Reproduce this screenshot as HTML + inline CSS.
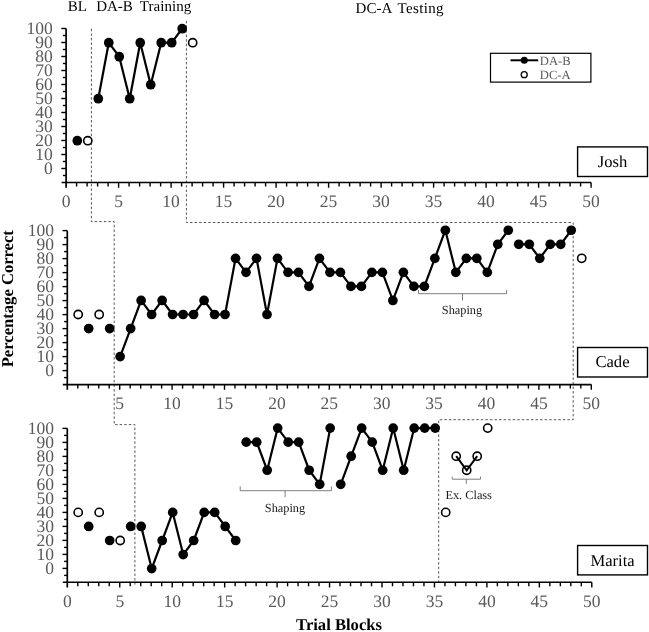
<!DOCTYPE html>
<html><head><meta charset="utf-8"><style>
html,body{margin:0;padding:0;background:#fff;}
body{width:649px;height:632px;overflow:hidden;}
svg{display:block;filter:grayscale(1);}
text{font-family:"Liberation Serif",serif;text-rendering:geometricPrecision;}
.tk{font-size:17.5px;fill:#595959;}
.an{font-size:12.3px;fill:#1a1a1a;}
.lg{font-size:12.6px;fill:#595959;}
.nm{font-size:16.6px;fill:#000;}
.ph{font-size:15px;fill:#000;}
.ax{font-size:16.6px;font-weight:bold;fill:#000;}
</style></head><body>
<svg width="649" height="632" viewBox="0 0 649 632">
<rect width="649" height="632" fill="#fff"/>
<polyline points="91.4,28.8 91.4,221.6 114.2,221.6 114.2,424.6 134.9,424.6 134.9,584.6" fill="none" stroke="#595959" stroke-width="1" stroke-dasharray="2.5 2.06"/>
<polyline points="186.4,20.9 186.4,222.5 573.2,222.5 573.2,419.7 438.7,419.7 438.7,582.2" fill="none" stroke="#595959" stroke-width="1" stroke-dasharray="2.5 2.06"/>
<line x1="66.1" y1="28.5" x2="66.1" y2="187.7" stroke="#000" stroke-width="1.7"/>
<line x1="61.6" y1="182.5" x2="591.1" y2="182.5" stroke="#000" stroke-width="1.6"/>
<line x1="61.3" y1="28.5" x2="66.1" y2="28.5" stroke="#000" stroke-width="1.4"/>
<line x1="62.9" y1="35.5" x2="66.1" y2="35.5" stroke="#000" stroke-width="1.4"/>
<line x1="61.3" y1="42.5" x2="66.1" y2="42.5" stroke="#000" stroke-width="1.4"/>
<line x1="62.9" y1="49.5" x2="66.1" y2="49.5" stroke="#000" stroke-width="1.4"/>
<line x1="61.3" y1="56.5" x2="66.1" y2="56.5" stroke="#000" stroke-width="1.4"/>
<line x1="62.9" y1="63.5" x2="66.1" y2="63.5" stroke="#000" stroke-width="1.4"/>
<line x1="61.3" y1="70.5" x2="66.1" y2="70.5" stroke="#000" stroke-width="1.4"/>
<line x1="62.9" y1="77.5" x2="66.1" y2="77.5" stroke="#000" stroke-width="1.4"/>
<line x1="61.3" y1="84.5" x2="66.1" y2="84.5" stroke="#000" stroke-width="1.4"/>
<line x1="62.9" y1="91.5" x2="66.1" y2="91.5" stroke="#000" stroke-width="1.4"/>
<line x1="61.3" y1="98.5" x2="66.1" y2="98.5" stroke="#000" stroke-width="1.4"/>
<line x1="62.9" y1="105.5" x2="66.1" y2="105.5" stroke="#000" stroke-width="1.4"/>
<line x1="61.3" y1="112.5" x2="66.1" y2="112.5" stroke="#000" stroke-width="1.4"/>
<line x1="62.9" y1="119.5" x2="66.1" y2="119.5" stroke="#000" stroke-width="1.4"/>
<line x1="61.3" y1="126.5" x2="66.1" y2="126.5" stroke="#000" stroke-width="1.4"/>
<line x1="62.9" y1="133.5" x2="66.1" y2="133.5" stroke="#000" stroke-width="1.4"/>
<line x1="61.3" y1="140.5" x2="66.1" y2="140.5" stroke="#000" stroke-width="1.4"/>
<line x1="62.9" y1="147.5" x2="66.1" y2="147.5" stroke="#000" stroke-width="1.4"/>
<line x1="61.3" y1="154.5" x2="66.1" y2="154.5" stroke="#000" stroke-width="1.4"/>
<line x1="62.9" y1="161.5" x2="66.1" y2="161.5" stroke="#000" stroke-width="1.4"/>
<line x1="61.3" y1="168.5" x2="66.1" y2="168.5" stroke="#000" stroke-width="1.4"/>
<line x1="62.9" y1="175.5" x2="66.1" y2="175.5" stroke="#000" stroke-width="1.4"/>
<line x1="76.6" y1="182.5" x2="76.6" y2="186.5" stroke="#000" stroke-width="1.4"/>
<line x1="87.1" y1="182.5" x2="87.1" y2="186.5" stroke="#000" stroke-width="1.4"/>
<line x1="97.6" y1="182.5" x2="97.6" y2="186.5" stroke="#000" stroke-width="1.4"/>
<line x1="108.1" y1="182.5" x2="108.1" y2="186.5" stroke="#000" stroke-width="1.4"/>
<line x1="118.6" y1="182.5" x2="118.6" y2="187.7" stroke="#000" stroke-width="1.4"/>
<line x1="129.1" y1="182.5" x2="129.1" y2="186.5" stroke="#000" stroke-width="1.4"/>
<line x1="139.6" y1="182.5" x2="139.6" y2="186.5" stroke="#000" stroke-width="1.4"/>
<line x1="150.1" y1="182.5" x2="150.1" y2="186.5" stroke="#000" stroke-width="1.4"/>
<line x1="160.6" y1="182.5" x2="160.6" y2="186.5" stroke="#000" stroke-width="1.4"/>
<line x1="171.1" y1="182.5" x2="171.1" y2="187.7" stroke="#000" stroke-width="1.4"/>
<line x1="181.6" y1="182.5" x2="181.6" y2="186.5" stroke="#000" stroke-width="1.4"/>
<line x1="192.1" y1="182.5" x2="192.1" y2="186.5" stroke="#000" stroke-width="1.4"/>
<line x1="202.6" y1="182.5" x2="202.6" y2="186.5" stroke="#000" stroke-width="1.4"/>
<line x1="213.1" y1="182.5" x2="213.1" y2="186.5" stroke="#000" stroke-width="1.4"/>
<line x1="223.6" y1="182.5" x2="223.6" y2="187.7" stroke="#000" stroke-width="1.4"/>
<line x1="234.1" y1="182.5" x2="234.1" y2="186.5" stroke="#000" stroke-width="1.4"/>
<line x1="244.6" y1="182.5" x2="244.6" y2="186.5" stroke="#000" stroke-width="1.4"/>
<line x1="255.1" y1="182.5" x2="255.1" y2="186.5" stroke="#000" stroke-width="1.4"/>
<line x1="265.6" y1="182.5" x2="265.6" y2="186.5" stroke="#000" stroke-width="1.4"/>
<line x1="276.1" y1="182.5" x2="276.1" y2="187.7" stroke="#000" stroke-width="1.4"/>
<line x1="286.6" y1="182.5" x2="286.6" y2="186.5" stroke="#000" stroke-width="1.4"/>
<line x1="297.1" y1="182.5" x2="297.1" y2="186.5" stroke="#000" stroke-width="1.4"/>
<line x1="307.6" y1="182.5" x2="307.6" y2="186.5" stroke="#000" stroke-width="1.4"/>
<line x1="318.1" y1="182.5" x2="318.1" y2="186.5" stroke="#000" stroke-width="1.4"/>
<line x1="328.6" y1="182.5" x2="328.6" y2="187.7" stroke="#000" stroke-width="1.4"/>
<line x1="339.1" y1="182.5" x2="339.1" y2="186.5" stroke="#000" stroke-width="1.4"/>
<line x1="349.6" y1="182.5" x2="349.6" y2="186.5" stroke="#000" stroke-width="1.4"/>
<line x1="360.1" y1="182.5" x2="360.1" y2="186.5" stroke="#000" stroke-width="1.4"/>
<line x1="370.6" y1="182.5" x2="370.6" y2="186.5" stroke="#000" stroke-width="1.4"/>
<line x1="381.1" y1="182.5" x2="381.1" y2="187.7" stroke="#000" stroke-width="1.4"/>
<line x1="391.6" y1="182.5" x2="391.6" y2="186.5" stroke="#000" stroke-width="1.4"/>
<line x1="402.1" y1="182.5" x2="402.1" y2="186.5" stroke="#000" stroke-width="1.4"/>
<line x1="412.6" y1="182.5" x2="412.6" y2="186.5" stroke="#000" stroke-width="1.4"/>
<line x1="423.1" y1="182.5" x2="423.1" y2="186.5" stroke="#000" stroke-width="1.4"/>
<line x1="433.6" y1="182.5" x2="433.6" y2="187.7" stroke="#000" stroke-width="1.4"/>
<line x1="444.1" y1="182.5" x2="444.1" y2="186.5" stroke="#000" stroke-width="1.4"/>
<line x1="454.6" y1="182.5" x2="454.6" y2="186.5" stroke="#000" stroke-width="1.4"/>
<line x1="465.1" y1="182.5" x2="465.1" y2="186.5" stroke="#000" stroke-width="1.4"/>
<line x1="475.6" y1="182.5" x2="475.6" y2="186.5" stroke="#000" stroke-width="1.4"/>
<line x1="486.1" y1="182.5" x2="486.1" y2="187.7" stroke="#000" stroke-width="1.4"/>
<line x1="496.6" y1="182.5" x2="496.6" y2="186.5" stroke="#000" stroke-width="1.4"/>
<line x1="507.1" y1="182.5" x2="507.1" y2="186.5" stroke="#000" stroke-width="1.4"/>
<line x1="517.6" y1="182.5" x2="517.6" y2="186.5" stroke="#000" stroke-width="1.4"/>
<line x1="528.1" y1="182.5" x2="528.1" y2="186.5" stroke="#000" stroke-width="1.4"/>
<line x1="538.6" y1="182.5" x2="538.6" y2="187.7" stroke="#000" stroke-width="1.4"/>
<line x1="549.1" y1="182.5" x2="549.1" y2="186.5" stroke="#000" stroke-width="1.4"/>
<line x1="559.6" y1="182.5" x2="559.6" y2="186.5" stroke="#000" stroke-width="1.4"/>
<line x1="570.1" y1="182.5" x2="570.1" y2="186.5" stroke="#000" stroke-width="1.4"/>
<line x1="580.6" y1="182.5" x2="580.6" y2="186.5" stroke="#000" stroke-width="1.4"/>
<line x1="591.1" y1="182.5" x2="591.1" y2="187.7" stroke="#000" stroke-width="1.4"/>
<text x="52.8" y="34" text-anchor="end" class="tk">100</text>
<text x="52.8" y="48" text-anchor="end" class="tk">90</text>
<text x="52.8" y="62" text-anchor="end" class="tk">80</text>
<text x="52.8" y="76" text-anchor="end" class="tk">70</text>
<text x="52.8" y="90" text-anchor="end" class="tk">60</text>
<text x="52.8" y="104" text-anchor="end" class="tk">50</text>
<text x="52.8" y="118" text-anchor="end" class="tk">40</text>
<text x="52.8" y="132" text-anchor="end" class="tk">30</text>
<text x="52.8" y="146" text-anchor="end" class="tk">20</text>
<text x="52.8" y="160" text-anchor="end" class="tk">10</text>
<text x="52.8" y="174" text-anchor="end" class="tk">0</text>
<text x="66.1" y="207.2" text-anchor="middle" class="tk">0</text>
<text x="118.6" y="207.2" text-anchor="middle" class="tk">5</text>
<text x="171.1" y="207.2" text-anchor="middle" class="tk">10</text>
<text x="223.6" y="207.2" text-anchor="middle" class="tk">15</text>
<text x="276.1" y="207.2" text-anchor="middle" class="tk">20</text>
<text x="328.6" y="207.2" text-anchor="middle" class="tk">25</text>
<text x="381.1" y="207.2" text-anchor="middle" class="tk">30</text>
<text x="433.6" y="207.2" text-anchor="middle" class="tk">35</text>
<text x="486.1" y="207.2" text-anchor="middle" class="tk">40</text>
<text x="538.6" y="207.2" text-anchor="middle" class="tk">45</text>
<text x="591.1" y="207.2" text-anchor="middle" class="tk">50</text>
<line x1="67.3" y1="230.6" x2="67.3" y2="389.8" stroke="#000" stroke-width="1.7"/>
<line x1="62.8" y1="384.6" x2="591.3" y2="384.6" stroke="#000" stroke-width="1.6"/>
<line x1="62.5" y1="230.6" x2="67.3" y2="230.6" stroke="#000" stroke-width="1.4"/>
<line x1="64.1" y1="237.6" x2="67.3" y2="237.6" stroke="#000" stroke-width="1.4"/>
<line x1="62.5" y1="244.6" x2="67.3" y2="244.6" stroke="#000" stroke-width="1.4"/>
<line x1="64.1" y1="251.6" x2="67.3" y2="251.6" stroke="#000" stroke-width="1.4"/>
<line x1="62.5" y1="258.6" x2="67.3" y2="258.6" stroke="#000" stroke-width="1.4"/>
<line x1="64.1" y1="265.6" x2="67.3" y2="265.6" stroke="#000" stroke-width="1.4"/>
<line x1="62.5" y1="272.6" x2="67.3" y2="272.6" stroke="#000" stroke-width="1.4"/>
<line x1="64.1" y1="279.6" x2="67.3" y2="279.6" stroke="#000" stroke-width="1.4"/>
<line x1="62.5" y1="286.6" x2="67.3" y2="286.6" stroke="#000" stroke-width="1.4"/>
<line x1="64.1" y1="293.6" x2="67.3" y2="293.6" stroke="#000" stroke-width="1.4"/>
<line x1="62.5" y1="300.6" x2="67.3" y2="300.6" stroke="#000" stroke-width="1.4"/>
<line x1="64.1" y1="307.6" x2="67.3" y2="307.6" stroke="#000" stroke-width="1.4"/>
<line x1="62.5" y1="314.6" x2="67.3" y2="314.6" stroke="#000" stroke-width="1.4"/>
<line x1="64.1" y1="321.6" x2="67.3" y2="321.6" stroke="#000" stroke-width="1.4"/>
<line x1="62.5" y1="328.6" x2="67.3" y2="328.6" stroke="#000" stroke-width="1.4"/>
<line x1="64.1" y1="335.6" x2="67.3" y2="335.6" stroke="#000" stroke-width="1.4"/>
<line x1="62.5" y1="342.6" x2="67.3" y2="342.6" stroke="#000" stroke-width="1.4"/>
<line x1="64.1" y1="349.6" x2="67.3" y2="349.6" stroke="#000" stroke-width="1.4"/>
<line x1="62.5" y1="356.6" x2="67.3" y2="356.6" stroke="#000" stroke-width="1.4"/>
<line x1="64.1" y1="363.6" x2="67.3" y2="363.6" stroke="#000" stroke-width="1.4"/>
<line x1="62.5" y1="370.6" x2="67.3" y2="370.6" stroke="#000" stroke-width="1.4"/>
<line x1="64.1" y1="377.6" x2="67.3" y2="377.6" stroke="#000" stroke-width="1.4"/>
<line x1="77.78" y1="384.6" x2="77.78" y2="388.6" stroke="#000" stroke-width="1.4"/>
<line x1="88.26" y1="384.6" x2="88.26" y2="388.6" stroke="#000" stroke-width="1.4"/>
<line x1="98.74" y1="384.6" x2="98.74" y2="388.6" stroke="#000" stroke-width="1.4"/>
<line x1="109.22" y1="384.6" x2="109.22" y2="388.6" stroke="#000" stroke-width="1.4"/>
<line x1="119.7" y1="384.6" x2="119.7" y2="389.8" stroke="#000" stroke-width="1.4"/>
<line x1="130.18" y1="384.6" x2="130.18" y2="388.6" stroke="#000" stroke-width="1.4"/>
<line x1="140.66" y1="384.6" x2="140.66" y2="388.6" stroke="#000" stroke-width="1.4"/>
<line x1="151.14" y1="384.6" x2="151.14" y2="388.6" stroke="#000" stroke-width="1.4"/>
<line x1="161.62" y1="384.6" x2="161.62" y2="388.6" stroke="#000" stroke-width="1.4"/>
<line x1="172.1" y1="384.6" x2="172.1" y2="389.8" stroke="#000" stroke-width="1.4"/>
<line x1="182.58" y1="384.6" x2="182.58" y2="388.6" stroke="#000" stroke-width="1.4"/>
<line x1="193.06" y1="384.6" x2="193.06" y2="388.6" stroke="#000" stroke-width="1.4"/>
<line x1="203.54" y1="384.6" x2="203.54" y2="388.6" stroke="#000" stroke-width="1.4"/>
<line x1="214.02" y1="384.6" x2="214.02" y2="388.6" stroke="#000" stroke-width="1.4"/>
<line x1="224.5" y1="384.6" x2="224.5" y2="389.8" stroke="#000" stroke-width="1.4"/>
<line x1="234.98" y1="384.6" x2="234.98" y2="388.6" stroke="#000" stroke-width="1.4"/>
<line x1="245.46" y1="384.6" x2="245.46" y2="388.6" stroke="#000" stroke-width="1.4"/>
<line x1="255.94" y1="384.6" x2="255.94" y2="388.6" stroke="#000" stroke-width="1.4"/>
<line x1="266.42" y1="384.6" x2="266.42" y2="388.6" stroke="#000" stroke-width="1.4"/>
<line x1="276.9" y1="384.6" x2="276.9" y2="389.8" stroke="#000" stroke-width="1.4"/>
<line x1="287.38" y1="384.6" x2="287.38" y2="388.6" stroke="#000" stroke-width="1.4"/>
<line x1="297.86" y1="384.6" x2="297.86" y2="388.6" stroke="#000" stroke-width="1.4"/>
<line x1="308.34" y1="384.6" x2="308.34" y2="388.6" stroke="#000" stroke-width="1.4"/>
<line x1="318.82" y1="384.6" x2="318.82" y2="388.6" stroke="#000" stroke-width="1.4"/>
<line x1="329.3" y1="384.6" x2="329.3" y2="389.8" stroke="#000" stroke-width="1.4"/>
<line x1="339.78" y1="384.6" x2="339.78" y2="388.6" stroke="#000" stroke-width="1.4"/>
<line x1="350.26" y1="384.6" x2="350.26" y2="388.6" stroke="#000" stroke-width="1.4"/>
<line x1="360.74" y1="384.6" x2="360.74" y2="388.6" stroke="#000" stroke-width="1.4"/>
<line x1="371.22" y1="384.6" x2="371.22" y2="388.6" stroke="#000" stroke-width="1.4"/>
<line x1="381.7" y1="384.6" x2="381.7" y2="389.8" stroke="#000" stroke-width="1.4"/>
<line x1="392.18" y1="384.6" x2="392.18" y2="388.6" stroke="#000" stroke-width="1.4"/>
<line x1="402.66" y1="384.6" x2="402.66" y2="388.6" stroke="#000" stroke-width="1.4"/>
<line x1="413.14" y1="384.6" x2="413.14" y2="388.6" stroke="#000" stroke-width="1.4"/>
<line x1="423.62" y1="384.6" x2="423.62" y2="388.6" stroke="#000" stroke-width="1.4"/>
<line x1="434.1" y1="384.6" x2="434.1" y2="389.8" stroke="#000" stroke-width="1.4"/>
<line x1="444.58" y1="384.6" x2="444.58" y2="388.6" stroke="#000" stroke-width="1.4"/>
<line x1="455.06" y1="384.6" x2="455.06" y2="388.6" stroke="#000" stroke-width="1.4"/>
<line x1="465.54" y1="384.6" x2="465.54" y2="388.6" stroke="#000" stroke-width="1.4"/>
<line x1="476.02" y1="384.6" x2="476.02" y2="388.6" stroke="#000" stroke-width="1.4"/>
<line x1="486.5" y1="384.6" x2="486.5" y2="389.8" stroke="#000" stroke-width="1.4"/>
<line x1="496.98" y1="384.6" x2="496.98" y2="388.6" stroke="#000" stroke-width="1.4"/>
<line x1="507.46" y1="384.6" x2="507.46" y2="388.6" stroke="#000" stroke-width="1.4"/>
<line x1="517.94" y1="384.6" x2="517.94" y2="388.6" stroke="#000" stroke-width="1.4"/>
<line x1="528.42" y1="384.6" x2="528.42" y2="388.6" stroke="#000" stroke-width="1.4"/>
<line x1="538.9" y1="384.6" x2="538.9" y2="389.8" stroke="#000" stroke-width="1.4"/>
<line x1="549.38" y1="384.6" x2="549.38" y2="388.6" stroke="#000" stroke-width="1.4"/>
<line x1="559.86" y1="384.6" x2="559.86" y2="388.6" stroke="#000" stroke-width="1.4"/>
<line x1="570.34" y1="384.6" x2="570.34" y2="388.6" stroke="#000" stroke-width="1.4"/>
<line x1="580.82" y1="384.6" x2="580.82" y2="388.6" stroke="#000" stroke-width="1.4"/>
<line x1="591.3" y1="384.6" x2="591.3" y2="389.8" stroke="#000" stroke-width="1.4"/>
<text x="54" y="236.1" text-anchor="end" class="tk">100</text>
<text x="54" y="250.1" text-anchor="end" class="tk">90</text>
<text x="54" y="264.1" text-anchor="end" class="tk">80</text>
<text x="54" y="278.1" text-anchor="end" class="tk">70</text>
<text x="54" y="292.1" text-anchor="end" class="tk">60</text>
<text x="54" y="306.1" text-anchor="end" class="tk">50</text>
<text x="54" y="320.1" text-anchor="end" class="tk">40</text>
<text x="54" y="334.1" text-anchor="end" class="tk">30</text>
<text x="54" y="348.1" text-anchor="end" class="tk">20</text>
<text x="54" y="362.1" text-anchor="end" class="tk">10</text>
<text x="54" y="376.1" text-anchor="end" class="tk">0</text>
<text x="119.7" y="409.3" text-anchor="middle" class="tk">5</text>
<text x="172.1" y="409.3" text-anchor="middle" class="tk">10</text>
<text x="224.5" y="409.3" text-anchor="middle" class="tk">15</text>
<text x="276.9" y="409.3" text-anchor="middle" class="tk">20</text>
<text x="329.3" y="409.3" text-anchor="middle" class="tk">25</text>
<text x="381.7" y="409.3" text-anchor="middle" class="tk">30</text>
<text x="434.1" y="409.3" text-anchor="middle" class="tk">35</text>
<text x="486.5" y="409.3" text-anchor="middle" class="tk">40</text>
<text x="538.9" y="409.3" text-anchor="middle" class="tk">45</text>
<text x="591.3" y="409.3" text-anchor="middle" class="tk">50</text>
<line x1="67.3" y1="428.4" x2="67.3" y2="587.5" stroke="#000" stroke-width="1.7"/>
<line x1="62.8" y1="582.3" x2="591.8" y2="582.3" stroke="#000" stroke-width="1.6"/>
<line x1="62.5" y1="428.4" x2="67.3" y2="428.4" stroke="#000" stroke-width="1.4"/>
<line x1="64.1" y1="435.4" x2="67.3" y2="435.4" stroke="#000" stroke-width="1.4"/>
<line x1="62.5" y1="442.4" x2="67.3" y2="442.4" stroke="#000" stroke-width="1.4"/>
<line x1="64.1" y1="449.4" x2="67.3" y2="449.4" stroke="#000" stroke-width="1.4"/>
<line x1="62.5" y1="456.4" x2="67.3" y2="456.4" stroke="#000" stroke-width="1.4"/>
<line x1="64.1" y1="463.4" x2="67.3" y2="463.4" stroke="#000" stroke-width="1.4"/>
<line x1="62.5" y1="470.4" x2="67.3" y2="470.4" stroke="#000" stroke-width="1.4"/>
<line x1="64.1" y1="477.4" x2="67.3" y2="477.4" stroke="#000" stroke-width="1.4"/>
<line x1="62.5" y1="484.4" x2="67.3" y2="484.4" stroke="#000" stroke-width="1.4"/>
<line x1="64.1" y1="491.4" x2="67.3" y2="491.4" stroke="#000" stroke-width="1.4"/>
<line x1="62.5" y1="498.4" x2="67.3" y2="498.4" stroke="#000" stroke-width="1.4"/>
<line x1="64.1" y1="505.4" x2="67.3" y2="505.4" stroke="#000" stroke-width="1.4"/>
<line x1="62.5" y1="512.4" x2="67.3" y2="512.4" stroke="#000" stroke-width="1.4"/>
<line x1="64.1" y1="519.4" x2="67.3" y2="519.4" stroke="#000" stroke-width="1.4"/>
<line x1="62.5" y1="526.4" x2="67.3" y2="526.4" stroke="#000" stroke-width="1.4"/>
<line x1="64.1" y1="533.4" x2="67.3" y2="533.4" stroke="#000" stroke-width="1.4"/>
<line x1="62.5" y1="540.4" x2="67.3" y2="540.4" stroke="#000" stroke-width="1.4"/>
<line x1="64.1" y1="547.4" x2="67.3" y2="547.4" stroke="#000" stroke-width="1.4"/>
<line x1="62.5" y1="554.4" x2="67.3" y2="554.4" stroke="#000" stroke-width="1.4"/>
<line x1="64.1" y1="561.4" x2="67.3" y2="561.4" stroke="#000" stroke-width="1.4"/>
<line x1="62.5" y1="568.4" x2="67.3" y2="568.4" stroke="#000" stroke-width="1.4"/>
<line x1="64.1" y1="575.4" x2="67.3" y2="575.4" stroke="#000" stroke-width="1.4"/>
<line x1="77.79" y1="582.3" x2="77.79" y2="586.3" stroke="#000" stroke-width="1.4"/>
<line x1="88.28" y1="582.3" x2="88.28" y2="586.3" stroke="#000" stroke-width="1.4"/>
<line x1="98.77" y1="582.3" x2="98.77" y2="586.3" stroke="#000" stroke-width="1.4"/>
<line x1="109.26" y1="582.3" x2="109.26" y2="586.3" stroke="#000" stroke-width="1.4"/>
<line x1="119.75" y1="582.3" x2="119.75" y2="587.5" stroke="#000" stroke-width="1.4"/>
<line x1="130.24" y1="582.3" x2="130.24" y2="586.3" stroke="#000" stroke-width="1.4"/>
<line x1="140.73" y1="582.3" x2="140.73" y2="586.3" stroke="#000" stroke-width="1.4"/>
<line x1="151.22" y1="582.3" x2="151.22" y2="586.3" stroke="#000" stroke-width="1.4"/>
<line x1="161.71" y1="582.3" x2="161.71" y2="586.3" stroke="#000" stroke-width="1.4"/>
<line x1="172.2" y1="582.3" x2="172.2" y2="587.5" stroke="#000" stroke-width="1.4"/>
<line x1="182.69" y1="582.3" x2="182.69" y2="586.3" stroke="#000" stroke-width="1.4"/>
<line x1="193.18" y1="582.3" x2="193.18" y2="586.3" stroke="#000" stroke-width="1.4"/>
<line x1="203.67" y1="582.3" x2="203.67" y2="586.3" stroke="#000" stroke-width="1.4"/>
<line x1="214.16" y1="582.3" x2="214.16" y2="586.3" stroke="#000" stroke-width="1.4"/>
<line x1="224.65" y1="582.3" x2="224.65" y2="587.5" stroke="#000" stroke-width="1.4"/>
<line x1="235.14" y1="582.3" x2="235.14" y2="586.3" stroke="#000" stroke-width="1.4"/>
<line x1="245.63" y1="582.3" x2="245.63" y2="586.3" stroke="#000" stroke-width="1.4"/>
<line x1="256.12" y1="582.3" x2="256.12" y2="586.3" stroke="#000" stroke-width="1.4"/>
<line x1="266.61" y1="582.3" x2="266.61" y2="586.3" stroke="#000" stroke-width="1.4"/>
<line x1="277.1" y1="582.3" x2="277.1" y2="587.5" stroke="#000" stroke-width="1.4"/>
<line x1="287.59" y1="582.3" x2="287.59" y2="586.3" stroke="#000" stroke-width="1.4"/>
<line x1="298.08" y1="582.3" x2="298.08" y2="586.3" stroke="#000" stroke-width="1.4"/>
<line x1="308.57" y1="582.3" x2="308.57" y2="586.3" stroke="#000" stroke-width="1.4"/>
<line x1="319.06" y1="582.3" x2="319.06" y2="586.3" stroke="#000" stroke-width="1.4"/>
<line x1="329.55" y1="582.3" x2="329.55" y2="587.5" stroke="#000" stroke-width="1.4"/>
<line x1="340.04" y1="582.3" x2="340.04" y2="586.3" stroke="#000" stroke-width="1.4"/>
<line x1="350.53" y1="582.3" x2="350.53" y2="586.3" stroke="#000" stroke-width="1.4"/>
<line x1="361.02" y1="582.3" x2="361.02" y2="586.3" stroke="#000" stroke-width="1.4"/>
<line x1="371.51" y1="582.3" x2="371.51" y2="586.3" stroke="#000" stroke-width="1.4"/>
<line x1="382" y1="582.3" x2="382" y2="587.5" stroke="#000" stroke-width="1.4"/>
<line x1="392.49" y1="582.3" x2="392.49" y2="586.3" stroke="#000" stroke-width="1.4"/>
<line x1="402.98" y1="582.3" x2="402.98" y2="586.3" stroke="#000" stroke-width="1.4"/>
<line x1="413.47" y1="582.3" x2="413.47" y2="586.3" stroke="#000" stroke-width="1.4"/>
<line x1="423.96" y1="582.3" x2="423.96" y2="586.3" stroke="#000" stroke-width="1.4"/>
<line x1="434.45" y1="582.3" x2="434.45" y2="587.5" stroke="#000" stroke-width="1.4"/>
<line x1="444.94" y1="582.3" x2="444.94" y2="586.3" stroke="#000" stroke-width="1.4"/>
<line x1="455.43" y1="582.3" x2="455.43" y2="586.3" stroke="#000" stroke-width="1.4"/>
<line x1="465.92" y1="582.3" x2="465.92" y2="586.3" stroke="#000" stroke-width="1.4"/>
<line x1="476.41" y1="582.3" x2="476.41" y2="586.3" stroke="#000" stroke-width="1.4"/>
<line x1="486.9" y1="582.3" x2="486.9" y2="587.5" stroke="#000" stroke-width="1.4"/>
<line x1="497.39" y1="582.3" x2="497.39" y2="586.3" stroke="#000" stroke-width="1.4"/>
<line x1="507.88" y1="582.3" x2="507.88" y2="586.3" stroke="#000" stroke-width="1.4"/>
<line x1="518.37" y1="582.3" x2="518.37" y2="586.3" stroke="#000" stroke-width="1.4"/>
<line x1="528.86" y1="582.3" x2="528.86" y2="586.3" stroke="#000" stroke-width="1.4"/>
<line x1="539.35" y1="582.3" x2="539.35" y2="587.5" stroke="#000" stroke-width="1.4"/>
<line x1="549.84" y1="582.3" x2="549.84" y2="586.3" stroke="#000" stroke-width="1.4"/>
<line x1="560.33" y1="582.3" x2="560.33" y2="586.3" stroke="#000" stroke-width="1.4"/>
<line x1="570.82" y1="582.3" x2="570.82" y2="586.3" stroke="#000" stroke-width="1.4"/>
<line x1="581.31" y1="582.3" x2="581.31" y2="586.3" stroke="#000" stroke-width="1.4"/>
<line x1="591.8" y1="582.3" x2="591.8" y2="587.5" stroke="#000" stroke-width="1.4"/>
<text x="54" y="433.9" text-anchor="end" class="tk">100</text>
<text x="54" y="447.9" text-anchor="end" class="tk">90</text>
<text x="54" y="461.9" text-anchor="end" class="tk">80</text>
<text x="54" y="475.9" text-anchor="end" class="tk">70</text>
<text x="54" y="489.9" text-anchor="end" class="tk">60</text>
<text x="54" y="503.9" text-anchor="end" class="tk">50</text>
<text x="54" y="517.9" text-anchor="end" class="tk">40</text>
<text x="54" y="531.9" text-anchor="end" class="tk">30</text>
<text x="54" y="545.9" text-anchor="end" class="tk">20</text>
<text x="54" y="559.9" text-anchor="end" class="tk">10</text>
<text x="54" y="573.9" text-anchor="end" class="tk">0</text>
<text x="67.3" y="607" text-anchor="middle" class="tk">0</text>
<text x="119.75" y="607" text-anchor="middle" class="tk">5</text>
<text x="172.2" y="607" text-anchor="middle" class="tk">10</text>
<text x="224.65" y="607" text-anchor="middle" class="tk">15</text>
<text x="277.1" y="607" text-anchor="middle" class="tk">20</text>
<text x="329.55" y="607" text-anchor="middle" class="tk">25</text>
<text x="382" y="607" text-anchor="middle" class="tk">30</text>
<text x="434.45" y="607" text-anchor="middle" class="tk">35</text>
<text x="486.9" y="607" text-anchor="middle" class="tk">40</text>
<text x="539.35" y="607" text-anchor="middle" class="tk">45</text>
<text x="591.8" y="607" text-anchor="middle" class="tk">50</text>
<circle cx="77.29" cy="140.7" r="4.85" fill="#000"/>
<circle cx="87.78" cy="140.7" r="4.1" fill="#fff" stroke="#000" stroke-width="1.6"/>
<polyline points="98.27,98.7 108.76,42.7 119.25,56.7 129.74,98.7 140.23,42.7 150.72,84.7 161.21,42.7 171.7,42.7 182.19,28.7" fill="none" stroke="#000" stroke-width="2.2" stroke-linejoin="round"/>
<circle cx="98.27" cy="98.7" r="4.85" fill="#000"/>
<circle cx="108.76" cy="42.7" r="4.85" fill="#000"/>
<circle cx="119.25" cy="56.7" r="4.85" fill="#000"/>
<circle cx="129.74" cy="98.7" r="4.85" fill="#000"/>
<circle cx="140.23" cy="42.7" r="4.85" fill="#000"/>
<circle cx="150.72" cy="84.7" r="4.85" fill="#000"/>
<circle cx="161.21" cy="42.7" r="4.85" fill="#000"/>
<circle cx="171.7" cy="42.7" r="4.85" fill="#000"/>
<circle cx="182.19" cy="28.7" r="4.85" fill="#000"/>
<circle cx="192.68" cy="42.7" r="4.1" fill="#fff" stroke="#000" stroke-width="1.6"/>
<circle cx="78.19" cy="314.49" r="4.1" fill="#fff" stroke="#000" stroke-width="1.6"/>
<circle cx="99.17" cy="314.49" r="4.1" fill="#fff" stroke="#000" stroke-width="1.6"/>
<circle cx="88.68" cy="328.53" r="4.85" fill="#000"/>
<circle cx="109.66" cy="328.53" r="4.85" fill="#000"/>
<polyline points="120.15,356.61 130.64,328.53 141.13,300.45 151.62,314.49 162.11,300.45 172.6,314.49 183.09,314.49 193.58,314.49 204.07,300.45 214.56,314.49 225.05,314.49 235.54,258.33 246.03,272.37 256.52,258.33 267.01,314.49 277.5,258.33 287.99,272.37 298.48,272.37 308.97,286.41 319.46,258.33 329.95,272.37 340.44,272.37 350.93,286.41 361.42,286.41 371.91,272.37 382.4,272.37 392.89,300.45 403.38,272.37 413.87,286.41 424.36,286.41 434.85,258.33 445.34,230.25 455.83,272.37 466.32,258.33 476.81,258.33 487.3,272.37 497.79,244.29 508.28,230.25" fill="none" stroke="#000" stroke-width="2.2" stroke-linejoin="round"/>
<circle cx="120.15" cy="356.61" r="4.85" fill="#000"/>
<circle cx="130.64" cy="328.53" r="4.85" fill="#000"/>
<circle cx="141.13" cy="300.45" r="4.85" fill="#000"/>
<circle cx="151.62" cy="314.49" r="4.85" fill="#000"/>
<circle cx="162.11" cy="300.45" r="4.85" fill="#000"/>
<circle cx="172.6" cy="314.49" r="4.85" fill="#000"/>
<circle cx="183.09" cy="314.49" r="4.85" fill="#000"/>
<circle cx="193.58" cy="314.49" r="4.85" fill="#000"/>
<circle cx="204.07" cy="300.45" r="4.85" fill="#000"/>
<circle cx="214.56" cy="314.49" r="4.85" fill="#000"/>
<circle cx="225.05" cy="314.49" r="4.85" fill="#000"/>
<circle cx="235.54" cy="258.33" r="4.85" fill="#000"/>
<circle cx="246.03" cy="272.37" r="4.85" fill="#000"/>
<circle cx="256.52" cy="258.33" r="4.85" fill="#000"/>
<circle cx="267.01" cy="314.49" r="4.85" fill="#000"/>
<circle cx="277.5" cy="258.33" r="4.85" fill="#000"/>
<circle cx="287.99" cy="272.37" r="4.85" fill="#000"/>
<circle cx="298.48" cy="272.37" r="4.85" fill="#000"/>
<circle cx="308.97" cy="286.41" r="4.85" fill="#000"/>
<circle cx="319.46" cy="258.33" r="4.85" fill="#000"/>
<circle cx="329.95" cy="272.37" r="4.85" fill="#000"/>
<circle cx="340.44" cy="272.37" r="4.85" fill="#000"/>
<circle cx="350.93" cy="286.41" r="4.85" fill="#000"/>
<circle cx="361.42" cy="286.41" r="4.85" fill="#000"/>
<circle cx="371.91" cy="272.37" r="4.85" fill="#000"/>
<circle cx="382.4" cy="272.37" r="4.85" fill="#000"/>
<circle cx="392.89" cy="300.45" r="4.85" fill="#000"/>
<circle cx="403.38" cy="272.37" r="4.85" fill="#000"/>
<circle cx="413.87" cy="286.41" r="4.85" fill="#000"/>
<circle cx="424.36" cy="286.41" r="4.85" fill="#000"/>
<circle cx="434.85" cy="258.33" r="4.85" fill="#000"/>
<circle cx="445.34" cy="230.25" r="4.85" fill="#000"/>
<circle cx="455.83" cy="272.37" r="4.85" fill="#000"/>
<circle cx="466.32" cy="258.33" r="4.85" fill="#000"/>
<circle cx="476.81" cy="258.33" r="4.85" fill="#000"/>
<circle cx="487.3" cy="272.37" r="4.85" fill="#000"/>
<circle cx="497.79" cy="244.29" r="4.85" fill="#000"/>
<circle cx="508.28" cy="230.25" r="4.85" fill="#000"/>
<polyline points="518.77,244.29 529.26,244.29 539.75,258.33 550.24,244.29 560.73,244.29 571.22,230.25" fill="none" stroke="#000" stroke-width="2.2" stroke-linejoin="round"/>
<circle cx="518.77" cy="244.29" r="4.85" fill="#000"/>
<circle cx="529.26" cy="244.29" r="4.85" fill="#000"/>
<circle cx="539.75" cy="258.33" r="4.85" fill="#000"/>
<circle cx="550.24" cy="244.29" r="4.85" fill="#000"/>
<circle cx="560.73" cy="244.29" r="4.85" fill="#000"/>
<circle cx="571.22" cy="230.25" r="4.85" fill="#000"/>
<circle cx="581.71" cy="258.33" r="4.1" fill="#fff" stroke="#000" stroke-width="1.6"/>
<circle cx="78.2" cy="512.4" r="4.1" fill="#fff" stroke="#000" stroke-width="1.6"/>
<circle cx="99.2" cy="512.4" r="4.1" fill="#fff" stroke="#000" stroke-width="1.6"/>
<circle cx="120.2" cy="540.5" r="4.1" fill="#fff" stroke="#000" stroke-width="1.6"/>
<circle cx="88.7" cy="526.45" r="4.85" fill="#000"/>
<circle cx="109.7" cy="540.5" r="4.85" fill="#000"/>
<circle cx="130.7" cy="526.45" r="4.85" fill="#000"/>
<polyline points="141.2,526.45 151.7,568.6 162.2,540.5 172.7,512.4 183.2,554.55 193.7,540.5 204.2,512.4 214.7,512.4 225.2,526.45 235.7,540.5" fill="none" stroke="#000" stroke-width="2.2" stroke-linejoin="round"/>
<circle cx="141.2" cy="526.45" r="4.85" fill="#000"/>
<circle cx="151.7" cy="568.6" r="4.85" fill="#000"/>
<circle cx="162.2" cy="540.5" r="4.85" fill="#000"/>
<circle cx="172.7" cy="512.4" r="4.85" fill="#000"/>
<circle cx="183.2" cy="554.55" r="4.85" fill="#000"/>
<circle cx="193.7" cy="540.5" r="4.85" fill="#000"/>
<circle cx="204.2" cy="512.4" r="4.85" fill="#000"/>
<circle cx="214.7" cy="512.4" r="4.85" fill="#000"/>
<circle cx="225.2" cy="526.45" r="4.85" fill="#000"/>
<circle cx="235.7" cy="540.5" r="4.85" fill="#000"/>
<polyline points="246.2,442.15 256.7,442.15 267.2,470.25 277.7,428.1 288.2,442.15 298.7,442.15 309.2,470.25 319.7,484.3 330.2,428.1" fill="none" stroke="#000" stroke-width="2.2" stroke-linejoin="round"/>
<circle cx="246.2" cy="442.15" r="4.85" fill="#000"/>
<circle cx="256.7" cy="442.15" r="4.85" fill="#000"/>
<circle cx="267.2" cy="470.25" r="4.85" fill="#000"/>
<circle cx="277.7" cy="428.1" r="4.85" fill="#000"/>
<circle cx="288.2" cy="442.15" r="4.85" fill="#000"/>
<circle cx="298.7" cy="442.15" r="4.85" fill="#000"/>
<circle cx="309.2" cy="470.25" r="4.85" fill="#000"/>
<circle cx="319.7" cy="484.3" r="4.85" fill="#000"/>
<circle cx="330.2" cy="428.1" r="4.85" fill="#000"/>
<polyline points="340.7,484.3 351.2,456.2 361.7,428.1 372.2,442.15 382.7,470.25 393.2,428.1 403.7,470.25 414.2,428.1 424.7,428.1 435.2,428.1" fill="none" stroke="#000" stroke-width="2.2" stroke-linejoin="round"/>
<circle cx="340.7" cy="484.3" r="4.85" fill="#000"/>
<circle cx="351.2" cy="456.2" r="4.85" fill="#000"/>
<circle cx="361.7" cy="428.1" r="4.85" fill="#000"/>
<circle cx="372.2" cy="442.15" r="4.85" fill="#000"/>
<circle cx="382.7" cy="470.25" r="4.85" fill="#000"/>
<circle cx="393.2" cy="428.1" r="4.85" fill="#000"/>
<circle cx="403.7" cy="470.25" r="4.85" fill="#000"/>
<circle cx="414.2" cy="428.1" r="4.85" fill="#000"/>
<circle cx="424.7" cy="428.1" r="4.85" fill="#000"/>
<circle cx="435.2" cy="428.1" r="4.85" fill="#000"/>
<circle cx="445.7" cy="512.4" r="4.1" fill="#fff" stroke="#000" stroke-width="1.6"/>
<circle cx="487.7" cy="428.1" r="4.1" fill="#fff" stroke="#000" stroke-width="1.6"/>
<circle cx="456.2" cy="456.2" r="4.1" fill="#fff" stroke="#000" stroke-width="1.6"/>
<circle cx="466.7" cy="470.25" r="4.1" fill="#fff" stroke="#000" stroke-width="1.6"/>
<circle cx="477.2" cy="456.2" r="4.1" fill="#fff" stroke="#000" stroke-width="1.6"/>
<polyline points="456.2,456.2 466.7,470.25 477.2,456.2" fill="none" stroke="#000" stroke-width="2"/>
<path d="M418.5,290 V293.7 H506.6 V290 M462.5,293.7 V300.5" fill="none" stroke="#7f7f7f" stroke-width="1"/>
<text x="462" y="314.4" text-anchor="middle" class="an">Shaping</text>
<path d="M240.2,486.4 V490.7 H331.4 V486.4 M285.1,490.7 V497.1" fill="none" stroke="#7f7f7f" stroke-width="1"/>
<text x="285" y="511.5" text-anchor="middle" class="an">Shaping</text>
<path d="M452.2,476.6 V479.2 H480.5 V476.6 M466.3,479.2 V483.9" fill="none" stroke="#7f7f7f" stroke-width="1"/>
<text x="468.7" y="498.7" text-anchor="middle" class="an">Ex. Class</text>
<rect x="490.5" y="53.3" width="100.4" height="28.8" fill="#fff" stroke="#000" stroke-width="1.2"/>
<line x1="510.5" y1="60.3" x2="538.2" y2="60.3" stroke="#000" stroke-width="2"/>
<circle cx="524.3" cy="60.3" r="3.5" fill="#000"/>
<circle cx="524.2" cy="74.7" r="3" fill="#fff" stroke="#000" stroke-width="1.3"/>
<text x="539.8" y="64.6" class="lg">DA-B</text>
<text x="539.8" y="78.8" class="lg">DC-A</text>
<rect x="577.6" y="146.9" width="69.9" height="29.6" fill="#fff" stroke="#000" stroke-width="1.4"/>
<text x="612.5" y="167.2" text-anchor="middle" class="nm">Josh</text>
<rect x="577.6" y="347.5" width="69.9" height="29.5" fill="#fff" stroke="#000" stroke-width="1.4"/>
<text x="612.5" y="367.4" text-anchor="middle" class="nm">Cade</text>
<rect x="577.6" y="545.5" width="69.9" height="29.4" fill="#fff" stroke="#000" stroke-width="1.4"/>
<text x="612.5" y="566.4" text-anchor="middle" class="nm">Marita</text>
<text x="67.8" y="11.4" class="ph">BL</text>
<text x="96.2" y="11.4" class="ph">DA-B</text>
<text x="139.8" y="11.4" class="ph" textLength="51.5" lengthAdjust="spacing">Training</text>
<text x="355.6" y="12.7" class="ph">DC-A</text>
<text x="397.6" y="12.7" class="ph" textLength="46" lengthAdjust="spacing">Testing</text>
<text x="339" y="629.9" text-anchor="middle" class="ax">Trial Blocks</text>
<text transform="translate(12.7,298.7) rotate(-90)" text-anchor="middle" class="ax">Percentage Correct</text>
</svg>
</body></html>
